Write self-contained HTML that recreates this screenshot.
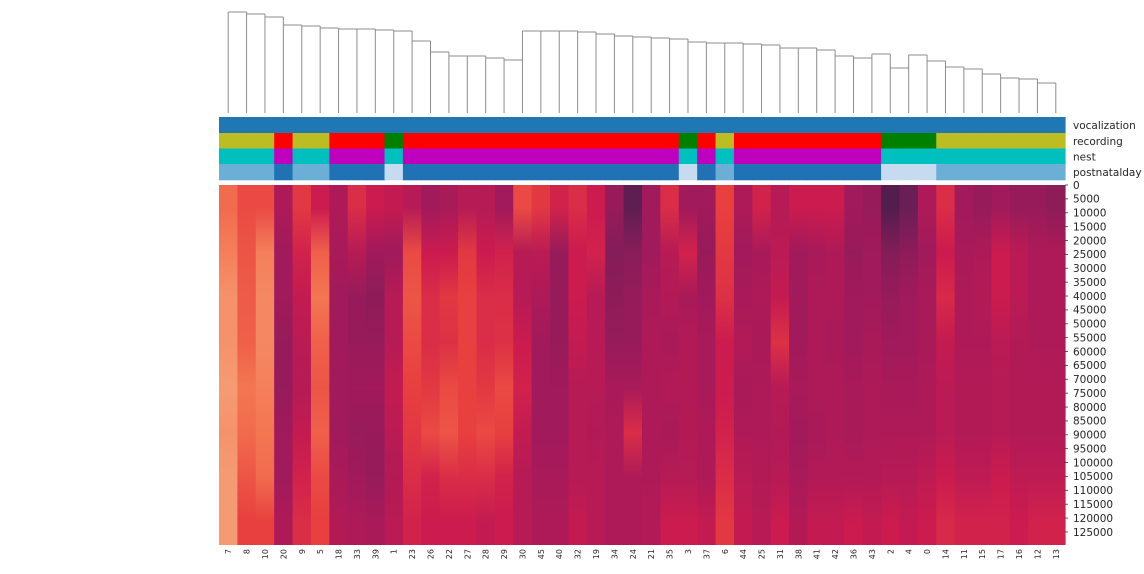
<!DOCTYPE html>
<html><head><meta charset="utf-8">
<style>
body{margin:0;background:#fff;width:1144px;height:569px;overflow:hidden;font-family:"Liberation Sans","DejaVu Sans",sans-serif;}
svg text{font-family:"DejaVu Sans","Liberation Sans",sans-serif;fill:#262626;}
</style></head>
<body>
<svg id="chart" width="1144" height="569" xmlns="http://www.w3.org/2000/svg">
<defs id="defs"></defs>
<g id="dendro"></g>
<g id="annot"></g>
<g id="heat"></g>
<g id="yticks"></g>
<g id="xticks"></g>
</svg>
<script>
const columnLabels=[7,8,10,20,9,5,18,33,39,1,23,26,22,27,28,29,30,45,40,32,19,34,24,21,35,3,37,6,44,25,31,38,41,42,36,43,2,4,0,14,11,15,17,16,12,13];
const linkHeights=[12,14,17,25,26,28,29,29,30,31,41,52,56,56,58,60,31,31,31,32,34,36,37,38,39,42,43,43,44,45,48,48,50,56,58,54,68,55,61,67,69,74,78,79,83];
const recording=['o','o','o','r','o','o','r','r','r','g','r','r','r','r','r','r','r','r','r','r','r','r','r','r','r','g','r','o','r','r','r','r','r','r','r','r','g','g','g','o','o','o','o','o','o','o'];
const nest=['c','c','c','m','c','c','m','m','m','c','m','m','m','m','m','m','m','m','m','m','m','m','m','m','m','c','m','c','m','m','m','m','m','m','m','m','c','c','c','c','c','c','c','c','c','c'];
const postnatal=['b','b','b','d','b','b','d','d','d','l','d','d','d','d','d','d','d','d','d','d','d','d','d','d','d','l','d','b','d','d','d','d','d','d','d','d','l','l','l','b','b','b','b','b','b','b'];
const bands=[
[0.68,0.72,0.76,0.76,0.78,0.76,0.78,0.78],[0.62,0.64,0.65,0.66,0.70,0.68,0.64,0.60],[0.62,0.72,0.74,0.74,0.72,0.70,0.68,0.60],
[0.43,0.40,0.40,0.38,0.38,0.40,0.40,0.43],[0.58,0.52,0.48,0.46,0.45,0.48,0.52,0.55],[0.50,0.66,0.70,0.66,0.64,0.66,0.62,0.60],
[0.43,0.42,0.40,0.40,0.40,0.40,0.42,0.44],[0.55,0.45,0.38,0.38,0.40,0.38,0.40,0.43],[0.50,0.40,0.36,0.38,0.40,0.38,0.38,0.42],
[0.48,0.40,0.45,0.45,0.48,0.46,0.44,0.46],[0.45,0.62,0.64,0.62,0.60,0.58,0.55,0.52],[0.40,0.50,0.55,0.55,0.58,0.62,0.52,0.50],
[0.42,0.50,0.58,0.56,0.62,0.64,0.55,0.50],[0.45,0.58,0.60,0.60,0.60,0.60,0.55,0.50],[0.45,0.50,0.55,0.55,0.58,0.62,0.55,0.48],
[0.40,0.52,0.55,0.56,0.62,0.60,0.52,0.50],[0.62,0.45,0.45,0.50,0.52,0.48,0.45,0.45],[0.58,0.46,0.43,0.40,0.40,0.40,0.42,0.43],
[0.52,0.38,0.38,0.38,0.40,0.40,0.42,0.43],[0.55,0.50,0.50,0.48,0.45,0.45,0.45,0.48],[0.50,0.52,0.45,0.45,0.45,0.44,0.45,0.45],
[0.38,0.34,0.36,0.38,0.42,0.43,0.43,0.43],[0.25,0.35,0.38,0.38,0.42,0.55,0.43,0.43],[0.40,0.40,0.42,0.43,0.43,0.43,0.43,0.44],
[0.55,0.45,0.44,0.42,0.44,0.42,0.45,0.50],[0.40,0.52,0.42,0.44,0.44,0.44,0.45,0.50],[0.40,0.38,0.40,0.42,0.42,0.43,0.43,0.48],
[0.60,0.58,0.56,0.50,0.50,0.52,0.55,0.58],[0.43,0.40,0.42,0.44,0.42,0.43,0.46,0.48],[0.52,0.42,0.43,0.42,0.43,0.43,0.44,0.45],
[0.45,0.46,0.48,0.56,0.45,0.44,0.45,0.50],[0.50,0.40,0.40,0.40,0.42,0.40,0.42,0.44],[0.50,0.42,0.43,0.43,0.43,0.42,0.44,0.48],
[0.50,0.43,0.43,0.42,0.43,0.43,0.44,0.48],[0.40,0.38,0.40,0.40,0.42,0.42,0.44,0.50],[0.38,0.40,0.40,0.42,0.43,0.43,0.44,0.48],
[0.22,0.34,0.38,0.40,0.42,0.43,0.45,0.50],[0.28,0.36,0.40,0.40,0.42,0.43,0.45,0.48],[0.43,0.40,0.42,0.42,0.43,0.43,0.47,0.50],
[0.55,0.50,0.54,0.48,0.46,0.46,0.50,0.54],[0.40,0.42,0.43,0.43,0.44,0.44,0.47,0.52],[0.38,0.43,0.44,0.43,0.44,0.44,0.47,0.52],
[0.40,0.50,0.50,0.46,0.45,0.45,0.50,0.52],[0.38,0.46,0.46,0.44,0.44,0.44,0.47,0.50],[0.38,0.43,0.43,0.43,0.44,0.44,0.47,0.52],
[0.36,0.43,0.43,0.43,0.44,0.44,0.47,0.52]];
const yTickValues=[0,5000,10000,15000,20000,25000,30000,35000,40000,45000,50000,55000,60000,65000,70000,75000,80000,85000,90000,95000,100000,105000,110000,115000,120000,125000];
const annotNames=['vocalization','recording','nest','postnatalday'];

const NS='http://www.w3.org/2000/svg';
const X0=219,X1=1065,nC=columnLabels.length,cw=(X1-X0)/nC;
const HY0=185,HY1=545,nRows=129700;
const xc=i=>X0+(i+0.5)*cw, xl=i=>X0+i*cw;
const yRow=v=>HY0+(v/nRows)*(HY1-HY0);
function el(t,a,p){const e=document.createElementNS(NS,t);for(const k in a)e.setAttribute(k,a[k]);p.appendChild(e);return e;}
const stops=[[0,[3,5,26]],[0.1,[43,24,66]],[0.2,[76,29,75]],[0.3,[112,31,87]],[0.4,[161,26,91]],[0.5,[203,27,79]],[0.6,[232,63,63]],[0.7,[243,118,81]],[0.8,[246,164,124]],[0.9,[247,201,170]],[1,[250,235,221]]];
function rocket(v){v=Math.max(0,Math.min(1,v));for(let i=1;i<stops.length;i++){if(v<=stops[i][0]){const a=stops[i-1],b=stops[i],t=(v-a[0])/(b[0]-a[0]);return 'rgb('+a[1].map((c,j)=>Math.round(c+(b[1][j]-c)*t)).join(',')+')';}}return 'rgb(250,235,221)';}

// dendrogram
const dg=document.getElementById('dendro');const base=113;
for(let i=0;i<nC;i++){
  const cand=[];
  if(i>0)cand.push(linkHeights[i-1]);
  if(i<nC-1)cand.push(linkHeights[i]);
  const top=Math.min(...cand);
  const ln=el('line',{x1:xc(i),x2:xc(i),y1:base,y2:top,stroke:'#8c8c8c','stroke-width':1},dg);
  
  
}
for(let i=0;i<nC-1;i++){
  const h=el('line',{x1:xc(i),x2:xc(i+1),y1:linkHeights[i],y2:linkHeights[i],stroke:'#8c8c8c','stroke-width':1},dg);
  
  
}
// annotations
const ag=document.getElementById('annot');
const colr={o:'#bcbd22',r:'#ff0000',g:'#008000',c:'#00bfbf',m:'#bf00bf',b:'#6baed6',d:'#2171b5',l:'#c6dbef'};
const rowsA=[null,recording,nest,postnatal];const ay=[117,133,148.5,164,180];
for(let r=0;r<4;r++){
  for(let i=0;i<nC;i++){
    const fill=r===0?'#1f77b4':colr[rowsA[r][i]];
    const rc=el('rect',{x:xl(i),y:ay[r],width:cw+0.6,height:ay[r+1]-ay[r]+0.3,fill:fill},ag);
    
    
  }
  const t=el('text',{x:1073,y:(ay[r]+ay[r+1])/2+4,'font-size':10.5},ag);t.textContent=annotNames[r];
  
  
}
// heatmap
const hg=document.getElementById('heat'),defs=document.getElementById('defs');
for(let i=0;i<nC;i++){
  const g=el('linearGradient',{id:'g'+i,x1:0,y1:0,x2:0,y2:1},defs);
  const b=bands[i];
  b.forEach((v,k)=>el('stop',{offset:((k+0.5)/b.length),'stop-color':rocket(v)},g));
  const rc=el('rect',{x:xl(i),y:HY0,width:cw+0.6,height:HY1-HY0,fill:'url(#g'+i+')'},hg);
  
  
}
// y ticks
const yg=document.getElementById('yticks');
yTickValues.forEach(v=>{
  const y=yRow(v);
  el('line',{x1:X1,x2:X1+3,y1:y,y2:y,stroke:'#333','stroke-width':0.8},yg);
  const t=el('text',{x:1073,y:y+3.8,'font-size':10.5},yg);t.textContent=v;
  
  
});
// x ticks
const xg=document.getElementById('xticks');
columnLabels.forEach((c,i)=>{
  const x=xc(i);
  const t=el('text',{x:0,y:0,'font-size':8,'text-anchor':'end',transform:'translate('+(x+3)+',549) rotate(-90)'},xg);t.textContent=c;
  
  
});
</script>
</body></html>
